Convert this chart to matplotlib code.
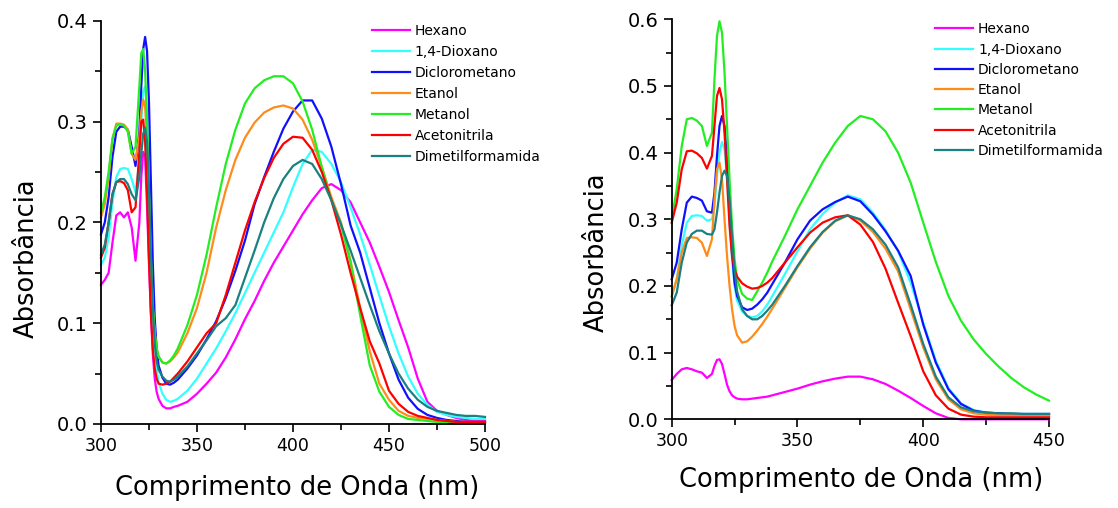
import numpy as np
import matplotlib.pyplot as plt
from matplotlib.ticker import MultipleLocator

plt.rcParams['font.family'] = ['DejaVu Sans']

solventes = ['Hexano', '1,4-Dioxano', 'Diclorometano', 'Etanol', 'Metanol',
             'Acetonitrila', 'Dimetilformamida']
cores = ['#ff00ff', '#33ffff', '#1010ff', '#ff8c1a', '#22ee22', '#ff0000', '#1a8080']

# ---- left panel: wavelength grid (nm) and absorbances ----
nm_a = [300, 302, 304, 306, 308, 310, 312, 314, 316, 318, 320, 321, 322, 323, 324,
        325, 326, 327, 328, 329, 330, 332, 334, 336, 338, 340, 345, 350, 355, 360,
        365, 370, 375, 380, 385, 390, 395, 400, 405, 410, 415, 420, 425, 430, 435,
        440, 445, 450, 455, 460, 465, 470, 475, 480, 485, 490, 495, 500]

hexano_a = [0.138, 0.143, 0.150, 0.180, 0.207, 0.210, 0.205, 0.210, 0.195, 0.162,
            0.200, 0.245, 0.270, 0.265, 0.215, 0.160, 0.110, 0.070, 0.045, 0.032,
            0.025, 0.018, 0.0155, 0.0155, 0.017, 0.018, 0.022, 0.030, 0.040, 0.051,
            0.066, 0.084, 0.104, 0.122, 0.142, 0.160, 0.176, 0.192, 0.208, 0.222,
            0.234, 0.238, 0.232, 0.220, 0.200, 0.180, 0.156, 0.131, 0.103, 0.076,
            0.045, 0.022, 0.013, 0.009, 0.006, 0.004, 0.003, 0.003]
dioxano_a = [0.158, 0.165, 0.185, 0.220, 0.245, 0.253, 0.254, 0.253, 0.243, 0.230,
             0.260, 0.300, 0.330, 0.335, 0.310, 0.245, 0.180, 0.120, 0.080, 0.055,
             0.042, 0.030, 0.024, 0.022, 0.023, 0.025, 0.033, 0.045, 0.060, 0.075,
             0.092, 0.110, 0.130, 0.150, 0.170, 0.190, 0.210, 0.235, 0.258, 0.272,
             0.270, 0.258, 0.240, 0.215, 0.188, 0.158, 0.127, 0.097, 0.070, 0.047,
             0.030, 0.019, 0.012, 0.009, 0.007, 0.006, 0.005, 0.005]
dcm_a = [0.188, 0.200, 0.225, 0.265, 0.290, 0.295, 0.295, 0.292, 0.275, 0.256,
         0.290, 0.335, 0.372, 0.384, 0.370, 0.320, 0.240, 0.160, 0.105, 0.075,
         0.058, 0.046, 0.040, 0.039, 0.041, 0.044, 0.055, 0.068, 0.084, 0.102,
         0.125, 0.152, 0.182, 0.218, 0.245, 0.270, 0.293, 0.310, 0.321, 0.321,
         0.303, 0.275, 0.238, 0.197, 0.170, 0.135, 0.100, 0.070, 0.044, 0.026,
         0.015, 0.009, 0.006, 0.004, 0.003, 0.002, 0.002, 0.002]
etanol_a = [0.205, 0.218, 0.245, 0.283, 0.298, 0.298, 0.297, 0.292, 0.268, 0.262,
            0.285, 0.310, 0.322, 0.315, 0.280, 0.220, 0.160, 0.115, 0.090, 0.075,
            0.067, 0.061, 0.060, 0.062, 0.066, 0.071, 0.090, 0.115, 0.150, 0.195,
            0.232, 0.262, 0.284, 0.299, 0.309, 0.314, 0.316, 0.313, 0.302, 0.282,
            0.255, 0.225, 0.200, 0.162, 0.115, 0.072, 0.040, 0.024, 0.013, 0.008,
            0.006, 0.005, 0.004, 0.003, 0.002, 0.002, 0.002, 0.002]
metanol_a = [0.210, 0.225, 0.250, 0.283, 0.296, 0.297, 0.296, 0.290, 0.268, 0.275,
             0.335, 0.368, 0.372, 0.350, 0.300, 0.230, 0.165, 0.118, 0.090, 0.075,
             0.067, 0.061, 0.060, 0.063, 0.068, 0.075, 0.098, 0.128, 0.168, 0.215,
             0.258, 0.292, 0.318, 0.333, 0.341, 0.345, 0.345, 0.338, 0.320, 0.292,
             0.255, 0.222, 0.198, 0.160, 0.108, 0.058, 0.032, 0.017, 0.009, 0.005,
             0.004, 0.003, 0.002, 0.002, 0.001, 0.001, 0.001, 0.001]
acn_a = [0.165, 0.175, 0.200, 0.228, 0.240, 0.241, 0.239, 0.232, 0.210, 0.215,
         0.270, 0.300, 0.302, 0.280, 0.230, 0.165, 0.110, 0.075, 0.055, 0.045,
         0.040, 0.039, 0.040, 0.042, 0.046, 0.050, 0.062, 0.076, 0.090, 0.100,
         0.128, 0.160, 0.192, 0.220, 0.244, 0.264, 0.278, 0.285, 0.284, 0.272,
         0.250, 0.222, 0.188, 0.150, 0.115, 0.082, 0.060, 0.033, 0.020, 0.012,
         0.008, 0.006, 0.004, 0.003, 0.002, 0.002, 0.002, 0.002]
dmf_a = [0.168, 0.178, 0.200, 0.228, 0.240, 0.243, 0.243, 0.238, 0.228, 0.222,
         0.245, 0.268, 0.288, 0.294, 0.280, 0.235, 0.170, 0.115, 0.080, 0.062,
         0.054, 0.047, 0.043, 0.042, 0.044, 0.047, 0.057, 0.070, 0.083, 0.097,
         0.105, 0.118, 0.145, 0.172, 0.200, 0.224, 0.243, 0.256, 0.262, 0.258,
         0.243, 0.222, 0.198, 0.172, 0.145, 0.118, 0.092, 0.070, 0.050, 0.035,
         0.024, 0.017, 0.013, 0.011, 0.009, 0.008, 0.008, 0.007]

# ---- right panel ----
nm_b = [300, 302, 304, 306, 308, 310, 312, 314, 316, 317, 318, 319, 320, 321, 322,
        323, 324, 325, 326, 328, 330, 332, 334, 336, 338, 340, 345, 350, 355, 360,
        365, 370, 375, 380, 385, 390, 395, 400, 405, 410, 415, 420, 425, 430, 435,
        440, 445, 450]

hexano_b = [0.059, 0.068, 0.075, 0.077, 0.075, 0.072, 0.070, 0.062, 0.068, 0.080,
            0.089, 0.090, 0.083, 0.068, 0.052, 0.042, 0.036, 0.033, 0.031, 0.030,
            0.030, 0.031, 0.032, 0.033, 0.034, 0.036, 0.041, 0.046, 0.052, 0.057,
            0.061, 0.064, 0.064, 0.060, 0.053, 0.043, 0.032, 0.020, 0.009, 0.002,
            0.000, 0.000, 0.000, 0.000, 0.000, 0.000, 0.000, 0.000]
dioxano_b = [0.184, 0.210, 0.260, 0.295, 0.305, 0.306, 0.305, 0.298, 0.300, 0.320,
             0.365, 0.400, 0.416, 0.405, 0.365, 0.300, 0.240, 0.200, 0.178, 0.162,
             0.155, 0.153, 0.155, 0.162, 0.172, 0.185, 0.218, 0.252, 0.285, 0.308,
             0.325, 0.336, 0.330, 0.310, 0.284, 0.252, 0.205, 0.145, 0.088, 0.047,
             0.024, 0.014, 0.010, 0.009, 0.008, 0.008, 0.008, 0.008]
dcm_b = [0.210, 0.235, 0.285, 0.325, 0.334, 0.332, 0.328, 0.312, 0.310, 0.340,
         0.395, 0.440, 0.455, 0.440, 0.390, 0.320, 0.250, 0.205, 0.185, 0.168,
         0.164, 0.166, 0.172, 0.180, 0.190, 0.203, 0.235, 0.270, 0.298, 0.315,
         0.326, 0.334, 0.327, 0.307, 0.282, 0.253, 0.215, 0.142, 0.085, 0.045,
         0.023, 0.013, 0.010, 0.009, 0.008, 0.008, 0.008, 0.008]
etanol_b = [0.185, 0.210, 0.250, 0.272, 0.273, 0.272, 0.265, 0.245, 0.270, 0.330,
            0.375, 0.385, 0.360, 0.300, 0.245, 0.200, 0.165, 0.140, 0.126, 0.115,
            0.117, 0.124, 0.133, 0.143, 0.154, 0.166, 0.197, 0.228, 0.256, 0.280,
            0.297, 0.306, 0.298, 0.281, 0.256, 0.222, 0.165, 0.108, 0.060, 0.030,
            0.015, 0.009, 0.007, 0.006, 0.006, 0.006, 0.006, 0.006]
metanol_b = [0.300, 0.345, 0.410, 0.450, 0.452, 0.448, 0.440, 0.410, 0.430, 0.510,
             0.575, 0.597, 0.580, 0.520, 0.440, 0.360, 0.290, 0.240, 0.210, 0.188,
             0.181, 0.179, 0.192, 0.205, 0.220, 0.237, 0.275, 0.315, 0.350, 0.385,
             0.415, 0.440, 0.455, 0.450, 0.432, 0.400, 0.355, 0.295, 0.236, 0.185,
             0.148, 0.120, 0.098, 0.079, 0.062, 0.048, 0.037, 0.028]
acn_b = [0.295, 0.325, 0.375, 0.402, 0.403, 0.399, 0.392, 0.376, 0.395, 0.440,
         0.485, 0.497, 0.480, 0.430, 0.360, 0.290, 0.245, 0.225, 0.214, 0.204,
         0.199, 0.196, 0.197, 0.200, 0.205, 0.212, 0.235, 0.258, 0.280, 0.295,
         0.303, 0.306, 0.292, 0.266, 0.226, 0.175, 0.125, 0.072, 0.036, 0.016,
         0.007, 0.004, 0.003, 0.003, 0.003, 0.003, 0.003, 0.003]
dmf_b = [0.171, 0.190, 0.235, 0.265, 0.278, 0.283, 0.283, 0.278, 0.277, 0.285,
         0.310, 0.340, 0.365, 0.373, 0.365, 0.330, 0.275, 0.225, 0.192, 0.165,
         0.155, 0.150, 0.150, 0.155, 0.163, 0.172, 0.200, 0.230, 0.258, 0.281,
         0.298, 0.306, 0.300, 0.285, 0.262, 0.228, 0.172, 0.113, 0.064, 0.033,
         0.018, 0.012, 0.010, 0.009, 0.009, 0.008, 0.008, 0.008]

series_a = [hexano_a, dioxano_a, dcm_a, etanol_a, metanol_a, acn_a, dmf_a]
series_b = [hexano_b, dioxano_b, dcm_b, etanol_b, metanol_b, acn_b, dmf_b]

fig = plt.figure(figsize=(11.18, 5.08), dpi=100)
ax1 = fig.add_axes([0.0903, 0.1654, 0.3435, 0.7936])
ax2 = fig.add_axes([0.6008, 0.1746, 0.3375, 0.7874])


def style(ax, xmax, ymax, xmaj, ymaj):
    ax.set_xlim(300, xmax)
    ax.set_ylim(0, ymax)
    ax.xaxis.set_major_locator(MultipleLocator(xmaj))
    ax.xaxis.set_minor_locator(MultipleLocator(xmaj / 2))
    ax.yaxis.set_major_locator(MultipleLocator(ymaj))
    ax.yaxis.set_minor_locator(MultipleLocator(ymaj / 2))
    ax.yaxis.set_major_formatter(plt.FormatStrFormatter('%.1f'))
    for s in ['top', 'right']:
        ax.spines[s].set_visible(False)
    for s in ['left', 'bottom']:
        ax.spines[s].set_linewidth(1.3)
    ax.tick_params(which='major', direction='out', length=6, width=1.2)
    ax.tick_params(which='minor', direction='out', length=4, width=1.2)
    ax.tick_params(axis='x', labelsize=12.5)
    ax.tick_params(axis='y', labelsize=14)
    ax.set_xlabel('Comprimento de Onda (nm)', fontsize=18.5)
    ax.set_ylabel('Absorbância', fontsize=18.5)


for ys, c, lab in zip(series_a, cores, solventes):
    ax1.plot(nm_a, ys, color=c, lw=1.6, label=lab, clip_on=False)
for ys, c, lab in zip(series_b, cores, solventes):
    ax2.plot(nm_b, ys, color=c, lw=1.6, label=lab, clip_on=False)

style(ax1, 500, 0.4, 50, 0.1)
style(ax2, 450, 0.6, 50, 0.1)

ax1.xaxis.set_label_coords(0.511, -0.127)
ax1.yaxis.set_label_coords(-0.16, 0.41)
ax2.xaxis.set_label_coords(0.502, -0.12)
ax2.yaxis.set_label_coords(-0.163, 0.418)

leg_kw = dict(frameon=False, fontsize=10, handlelength=2.75, handletextpad=0.35,
              borderpad=0, borderaxespad=0, loc='upper left',
              bbox_transform=fig.transFigure)
ax1.legend(bbox_to_anchor=(0.3325, 0.953), labelspacing=0.5, **leg_kw)
ax2.legend(bbox_to_anchor=(0.8363, 0.956), labelspacing=0.45, **leg_kw)

fig.savefig('out.png', dpi=100)
